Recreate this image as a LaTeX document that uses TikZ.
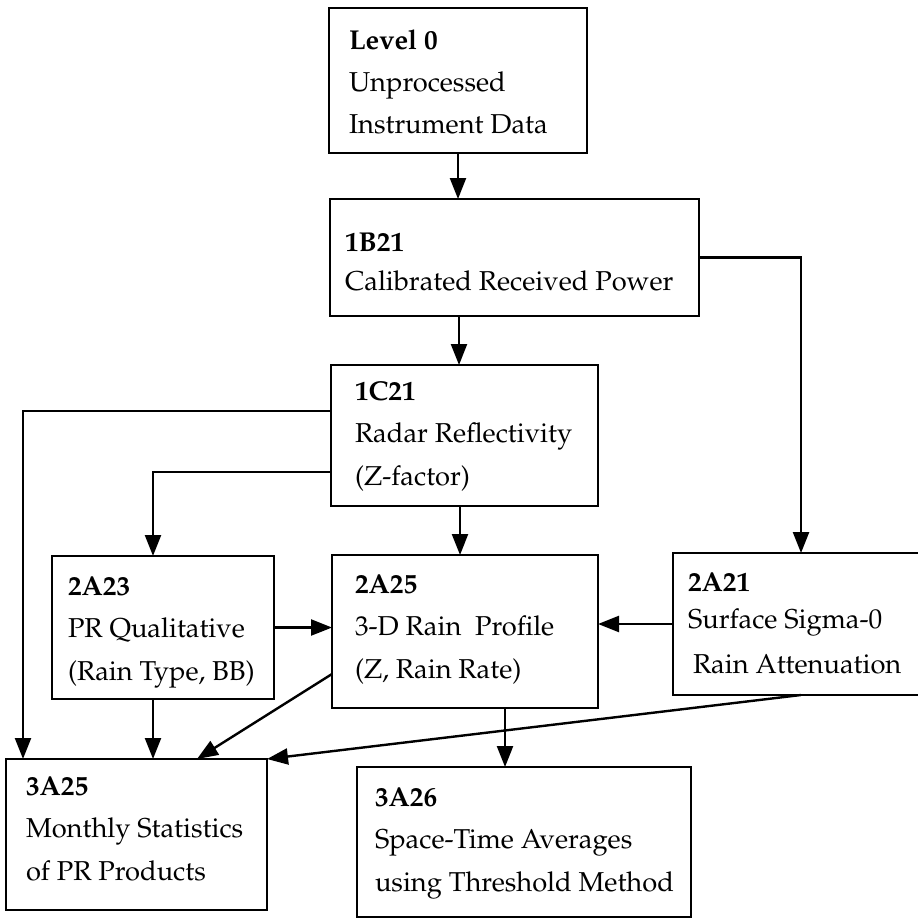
\documentclass[tikz,border=0pt]{standalone}
\usepackage[T1]{fontenc}
\usepackage{mathpazo}
\usetikzlibrary{arrows.meta,calc}
\newcommand{\bxt}[6]{%
  \begin{minipage}[c][#2pt][t]{#1pt}%
  \fontsize{27.3}{#5}\selectfont\setlength{\parindent}{0pt}\raggedright\setlength{\leftskip}{#3pt}%
  \rule{0pt}{#4pt}#6\par\end{minipage}}
\begin{document}
\begin{tikzpicture}[x=1pt,y=-1pt,
  pbox/.style={draw, line width=1.4pt, inner sep=0pt, outer sep=0pt, anchor=north west},
  arr/.style={line width=2.4pt, -{Triangle[length=21pt,width=16pt]}}]
\useasboundingbox (0,0) rectangle (918,918);
\fill[white] (0,0) rectangle (918,918);
\node[pbox] (lvl) at (329,8)   {\bxt{258}{145}{20}{41}{42}{\textbf{Level 0}\\Unprocessed\\Instrument Data}};
\node[pbox] (b21) at (330,199) {\bxt{369}{117}{15}{52}{39}{\textbf{1B21}\\Calibrated Received Power}};
\node[pbox] (c21) at (331,365) {\bxt{267}{141}{24}{35}{42.5}{\textbf{1C21}\\Radar Reflectivity\\(Z-factor)}};
\node[pbox] (a23) at (52,556)  {\bxt{222}{143}{16}{39}{42.5}{\textbf{2A23}\\PR Qualitative\\(Rain Type, BB)}};
\node[pbox] (a25) at (332,555) {\bxt{266}{153}{23}{38}{42.5}{\textbf{2A25}\\3-D Rain\ \ Profile\\(Z, Rain Rate)}};
\node[pbox] (a21) at (673,553) {\bxt{256}{142}{15}{38}{37}{\textbf{2A21}\\Surface Sigma-0\\[8pt]\hspace*{5pt}Rain Attenuation}};
\node[pbox] (m25) at (6,759)   {\bxt{261}{151}{20}{36}{42.5}{\textbf{3A25}\\Monthly Statistics\\of PR Products}};
\node[pbox] (m26) at (357,767) {\bxt{334}{150}{18}{39}{42.5}{\textbf{3A26}\\Space-Time Averages\\using Threshold Method}};
% connectors
\draw[arr] (lvl.south) -- (lvl.south |- b21.north);
\draw[arr] ([xshift=-5.5pt]c21.north |- b21.south) -- ([xshift=-5.5pt]c21.north);
\draw[arr] (b21.east) -| (a21.north);
\draw[arr] ([yshift=24.5pt]c21.west) -| ([xshift=17pt]m25.north west);
\draw[arr] ([yshift=-36.5pt]c21.west) -| ([xshift=-10pt]a23.north);
\draw[arr] ([xshift=-4.5pt]c21.south) -- ([xshift=-4.5pt]c21.south |- a25.north);
\draw[arr] (a23.east) -- (a23.east -| a25.west);
\draw[arr] (a21.west) -- (a21.west -| a25.east);
\draw[arr] ([xshift=-10pt]a23.south) -- ([xshift=-10pt]a23.south |- m25.north);
\draw[arr] ([yshift=-42.5pt]a25.west) -- ([xshift=60.5pt]m25.north);
\draw[arr] ([xshift=40pt]a25.south) -- ([xshift=40pt]a25.south |- m26.north);
\draw[arr] (a21.south) -- (m25.north east);
\end{tikzpicture}
\end{document}
